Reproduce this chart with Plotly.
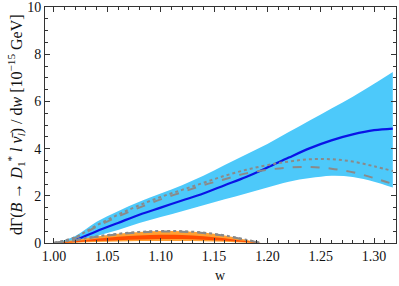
import plotly.graph_objects as go

# light-lepton channel (blue)
w_l = [1.00, 1.02, 1.04, 1.06, 1.08, 1.10, 1.12, 1.14, 1.16, 1.18, 1.20, 1.22, 1.24, 1.26, 1.28, 1.30, 1.3175]
l_upper = [0.0, 0.3, 0.9, 1.35, 1.75, 2.1, 2.45, 2.85, 3.3, 3.75, 4.2, 4.7, 5.2, 5.7, 6.2, 6.75, 7.25]
l_lower = [0.0, 0.1, 0.3, 0.55, 0.85, 1.1, 1.35, 1.6, 1.85, 2.1, 2.35, 2.6, 2.75, 2.85, 2.8, 2.6, 2.35]
l_dotted = [0.0, 0.25, 0.75, 1.2, 1.6, 1.95, 2.25, 2.55, 2.85, 3.1, 3.3, 3.45, 3.55, 3.55, 3.45, 3.25, 3.05]
l_dashed = [0.0, 0.22, 0.7, 1.12, 1.5, 1.85, 2.15, 2.45, 2.7, 2.95, 3.1, 3.2, 3.22, 3.15, 3.0, 2.75, 2.5]
w_lc = [1.02, 1.04, 1.06, 1.08, 1.10, 1.12, 1.14, 1.16, 1.18, 1.20, 1.22, 1.24, 1.26, 1.28, 1.30, 1.3175]
l_central = [0.12, 0.5, 0.85, 1.2, 1.5, 1.8, 2.1, 2.45, 2.8, 3.2, 3.62, 4.02, 4.35, 4.6, 4.78, 4.85]

# tau channel (orange)
w_t = [1.00, 1.02, 1.04, 1.06, 1.08, 1.10, 1.12, 1.14, 1.16, 1.18, 1.194]
t_upper = [0.0, 0.13, 0.28, 0.39, 0.47, 0.51, 0.50, 0.44, 0.32, 0.14, 0.0]
t_mid_up = [0.0, 0.08, 0.18, 0.26, 0.32, 0.345, 0.335, 0.285, 0.20, 0.08, 0.0]
t_mid_lo = [0.0, 0.03, 0.08, 0.12, 0.15, 0.17, 0.17, 0.14, 0.10, 0.04, 0.0]
t_lower = [0.0, 0.01, 0.04, 0.06, 0.08, 0.09, 0.08, 0.07, 0.05, 0.015, 0.0]
t_dotted = [0.0, 0.13, 0.28, 0.39, 0.47, 0.51, 0.50, 0.44, 0.32, 0.14, 0.0]
t_dashed = [0.0, 0.12, 0.26, 0.37, 0.45, 0.49, 0.48, 0.42, 0.30, 0.13, 0.0]

x_ticks = [1.00, 1.05, 1.10, 1.15, 1.20, 1.25, 1.30]
y_ticks = [0, 2, 4, 6, 8, 10]

BLUE_BAND = "#4DC9FA"
BLUE_LINE = "#0A14E6"
GRAY = "#8A8A8A"
ORANGE = "#FFA033"
RED = "#FF4D00"
FONT = "Liberation Serif"

fig = go.Figure()

def band(x, lo, hi, color):
    fig.add_trace(go.Scatter(x=x, y=lo, mode="lines", line=dict(width=0, color=color, shape="spline"),
                             hoverinfo="skip", showlegend=False))
    fig.add_trace(go.Scatter(x=x, y=hi, mode="lines", line=dict(width=0, color=color, shape="spline"),
                             fill="tonexty", fillcolor=color, hoverinfo="skip", showlegend=False))

band(w_l, l_lower, l_upper, BLUE_BAND)
band(w_t, t_lower, t_upper, ORANGE)
band(w_t, t_mid_lo, t_mid_up, RED)

fig.add_trace(go.Scatter(x=w_lc, y=l_central, mode="lines",
                         line=dict(color=BLUE_LINE, width=2.2, shape="spline"), showlegend=False))
for x, y, dash in [(w_l, l_dotted, "dot"), (w_l, l_dashed, "dash"),
                   (w_t, t_dotted, "dot"), (w_t, t_dashed, "dash")]:
    fig.add_trace(go.Scatter(x=x, y=y, mode="lines",
                             line=dict(color=GRAY, width=2, dash=dash, shape="spline"),
                             showlegend=False))

axis_common = dict(
    showline=True, linecolor="#333333", linewidth=1, mirror="allticks",
    ticks="inside", ticklen=5, tickcolor="#333333", tickwidth=1,
    showgrid=False, zeroline=False, automargin=False, ticklabeloverflow="allow",
    tickfont=dict(family=FONT, size=14, color="#111111"),
)

fig.update_xaxes(range=[0.9916, 1.3205], tickvals=x_ticks, ticktext=[f"{v:.2f}" for v in x_ticks],
                 minor=dict(dtick=0.01, tick0=1.0, ticks="inside", ticklen=3, tickcolor="#333333"),
                 **axis_common)
fig.update_yaxes(range=[0, 10], tickvals=y_ticks,
                 minor=dict(dtick=0.5, tick0=0, ticks="inside", ticklen=3, tickcolor="#333333"),
                 **axis_common)

fig.add_annotation(text="w", xref="paper", yref="paper", x=0.5, y=0, yanchor="middle",
                   yshift=-32, showarrow=False,
                   font=dict(family=FONT, size=14, color="#111111"))
fig.add_annotation(text="dΓ(<i>B</i> → <i>D</i><sub>1</sub><sup>*</sup> <i>l</i> <i>ν̄</i><sub><i>l</i></sub>) / d<i>w</i> [10<sup>−15</sup> GeV]",
                   xref="paper", yref="paper", x=0, y=0.5, xanchor="center", yanchor="middle",
                   xshift=-29, textangle=-90, showarrow=False,
                   font=dict(family=FONT, size=16, color="#111111"))

fig.update_layout(width=399, height=286, margin=dict(l=45, r=3, t=7, b=43),
                  plot_bgcolor="white", paper_bgcolor="white",
                  font=dict(family=FONT, size=14, color="#111111"))

fig.write_html("out.html", config={"displayModeBar": False},
               post_script="document.body.style.margin='0';document.body.style.padding='0';")
